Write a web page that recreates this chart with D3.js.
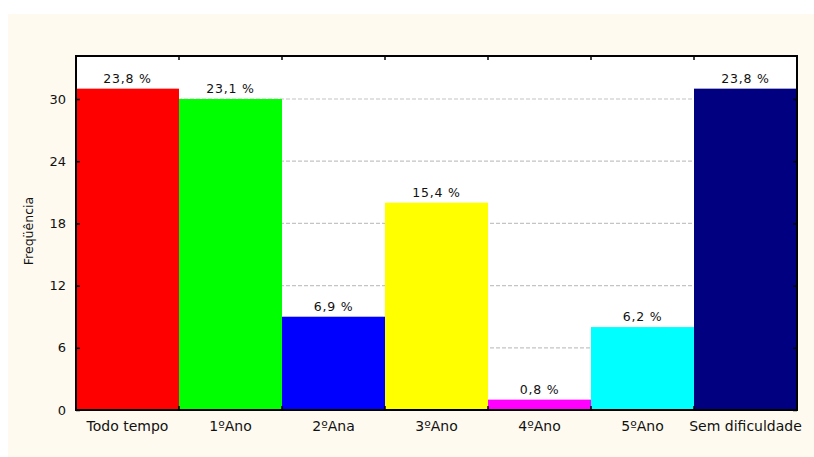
<!DOCTYPE html>
<html>
<head>
<meta charset="utf-8">
<script src="https://cdn.jsdelivr.net/npm/d3@7"></script>
<style>
  html, body { margin: 0; padding: 0; background: #ffffff; }
  svg { display: block; }
  text { font-family: "DejaVu Sans", Verdana, sans-serif; fill: #111; }
</style>
</head>
<body>
<svg id="chart" width="814" height="457"></svg>
<script>
// Frequency of reported difficulty by school year
const categories = ["Todo tempo", "1ºAno", "2ºAna", "3ºAno", "4ºAno", "5ºAno", "Sem dificuldade"];
const counts = [31, 30, 9, 20, 1, 8, 31];
const percentLabels = ["23,8 %", "23,1 %", "6,9 %", "15,4 %", "0,8 %", "6,2 %", "23,8 %"];
const barColors = ["#ff0000", "#00ff00", "#0000ff", "#ffff00", "#ff00ff", "#00ffff", "#000080"];
const yTicks = [0, 6, 12, 18, 24, 30];
const yTitle = "Freqüência";

const FONT = "'DejaVu Sans', Verdana, sans-serif";
const svg = d3.select("#chart");
const W = 814, H = 457;
const plot = { left: 76, right: 797, top: 56, bottom: 410 };

// panel background
svg.append("rect").attr("x", 8).attr("y", 14).attr("width", W - 8).attr("height", H - 14)
  .attr("fill", "#fefaf0");
svg.append("rect").attr("x", plot.left).attr("y", plot.top)
  .attr("width", plot.right - plot.left).attr("height", plot.bottom - plot.top)
  .attr("fill", "#ffffff");

const x = d3.scaleBand().domain(categories).range([plot.left, plot.right]).padding(0);
const y = d3.scaleLinear().domain([0, 34.15]).range([plot.bottom, plot.top]);

// dashed grid lines
svg.append("g").selectAll("line").data(yTicks.filter(d => d > 0)).join("line")
  .attr("x1", plot.left).attr("x2", plot.right)
  .attr("y1", d => y(d)).attr("y2", d => y(d))
  .attr("stroke", "#c4c4c4").attr("stroke-width", 1.2).attr("stroke-dasharray", "4,2");

// bars
svg.append("g").selectAll("rect").data(counts).join("rect")
  .attr("x", (d, i) => x(categories[i]))
  .attr("y", d => y(d))
  .attr("width", x.bandwidth())
  .attr("height", d => plot.bottom - y(d))
  .attr("fill", (d, i) => barColors[i]);

// value labels
svg.append("g").selectAll("text").data(counts).join("text")
  .attr("x", (d, i) => x(categories[i]) + x.bandwidth() / 2)
  .attr("y", d => y(d) - 6)
  .attr("text-anchor", "middle")
  .attr("font-size", 12.5)
  .attr("letter-spacing", 0.8)
  .text((d, i) => percentLabels[i]);

// axes with inward ticks
const yAxisL = d3.axisLeft(y).tickValues(yTicks).tickSize(-4).tickPadding(10).tickFormat(d3.format("d"));
const gL = svg.append("g").attr("transform", `translate(${plot.left},0)`).call(yAxisL);
gL.select(".domain").remove();
gL.selectAll("text").attr("font-size", 13).attr("font-family", FONT).attr("fill", "#111");
gL.selectAll("line").attr("stroke", "#000").attr("stroke-width", 1.5);

const yAxisR = d3.axisRight(y).tickValues(yTicks).tickSize(-4).tickFormat("");
const gR = svg.append("g").attr("transform", `translate(${plot.right},0)`).call(yAxisR);
gR.select(".domain").remove();
gR.selectAll("line").attr("stroke", "#000").attr("stroke-width", 1.5);

const bounds = d3.range(categories.length + 1).map(i => plot.left + i * x.step());
const edgeTicks = svg.append("g");
edgeTicks.selectAll("line.b").data(bounds).join("line").attr("class", "b")
  .attr("x1", d => d).attr("x2", d => d).attr("y1", plot.bottom).attr("y2", plot.bottom - 4)
  .attr("stroke", "#000").attr("stroke-width", 1.5);
edgeTicks.selectAll("line.t").data(bounds).join("line").attr("class", "t")
  .attr("x1", d => d).attr("x2", d => d).attr("y1", plot.top).attr("y2", plot.top + 4)
  .attr("stroke", "#000").attr("stroke-width", 1.5);

// category labels
const xAxis = d3.axisBottom(x).tickSize(0).tickPadding(11);
const gB = svg.append("g").attr("transform", `translate(0,${plot.bottom})`).call(xAxis);
gB.select(".domain").remove();
gB.selectAll("text").attr("font-size", 14).attr("font-family", FONT).attr("fill", "#111");

// frame
svg.append("rect").attr("x", plot.left).attr("y", plot.top)
  .attr("width", plot.right - plot.left).attr("height", plot.bottom - plot.top)
  .attr("fill", "none").attr("stroke", "#000").attr("stroke-width", 2);

// y title
svg.append("text")
  .attr("transform", `translate(33,${(plot.top + plot.bottom) / 2 - 2}) rotate(-90)`)
  .attr("text-anchor", "middle")
  .attr("font-size", 12.5)
  .text(yTitle);
</script>
</body>
</html>
